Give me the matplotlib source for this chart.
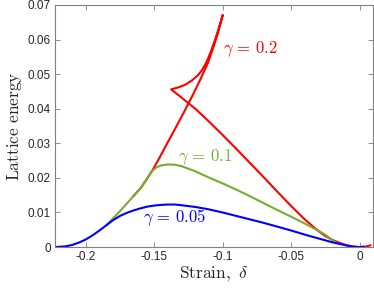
import matplotlib
matplotlib.use("Agg")
import matplotlib.pyplot as plt

plt.rcParams['mathtext.fontset'] = 'cm'
plt.rcParams['font.family'] = ['Liberation Sans', 'DejaVu Sans']

# gamma = 0.05 (blue)
blue_x = [-0.2225, -0.215, -0.21, -0.205, -0.2, -0.195, -0.19, -0.185, -0.18, -0.175,
          -0.17, -0.165, -0.16, -0.155, -0.15, -0.145, -0.14, -0.135, -0.13, -0.12,
          -0.11, -0.10, -0.09, -0.08, -0.07, -0.06, -0.05, -0.04, -0.03, -0.02,
          -0.01, -0.005, 0.0, 0.003]
blue_y = [0.0, 0.0002, 0.0006, 0.0013, 0.0022, 0.0034, 0.0048, 0.0063, 0.0078, 0.0090,
          0.0099, 0.0106, 0.0112, 0.0117, 0.0120, 0.0122, 0.0123, 0.0123, 0.0121, 0.0116,
          0.0109, 0.0100, 0.0090, 0.0080, 0.0070, 0.0059, 0.0048, 0.0036, 0.0025, 0.0014,
          0.0005, 0.0001, 0.0, 0.0001]

# gamma = 0.1 (green)
green_x = [-0.185, -0.18, -0.175, -0.17, -0.165, -0.16, -0.155, -0.151, -0.148, -0.145,
           -0.14, -0.135, -0.13, -0.12, -0.11, -0.10, -0.09, -0.08, -0.07, -0.06,
           -0.05, -0.04, -0.03, -0.025, -0.02, -0.017]
green_y = [0.0063, 0.0083, 0.0104, 0.0126, 0.0148, 0.0170, 0.0199, 0.0222, 0.0231, 0.0236,
           0.0239, 0.0238, 0.0234, 0.0219, 0.0201, 0.0184, 0.0166, 0.0147, 0.0127, 0.0107,
           0.0088, 0.0068, 0.0047, 0.0036, 0.0020, 0.0013]

# gamma = 0.2 (red): rising branch, upper return branch, descending branch
red_x = [-0.165, -0.16, -0.155, -0.151, -0.146, -0.1416, -0.135, -0.128, -0.122, -0.116,
         -0.111, -0.1067, -0.103, -0.0999,
         -0.1015, -0.1035, -0.106, -0.109, -0.112, -0.115, -0.118, -0.122, -0.127, -0.132,
         -0.1376,
         -0.13, -0.12, -0.11, -0.10, -0.09, -0.08, -0.07, -0.06, -0.05, -0.04,
         -0.03, -0.025, -0.02, -0.015, -0.01, -0.005, 0.0, 0.004, 0.008]
red_y = [0.0148, 0.0170, 0.0199, 0.0224, 0.0259, 0.0292, 0.0340, 0.0392, 0.0438, 0.0487,
         0.0530, 0.0578, 0.0625, 0.0671,
         0.0650, 0.0624, 0.0594, 0.0561, 0.0533, 0.0512, 0.0497, 0.0483, 0.0470, 0.0462,
         0.0456,
         0.0432, 0.0400, 0.0363, 0.0324, 0.0284, 0.0243, 0.0202, 0.0160, 0.0119, 0.0080,
         0.0046, 0.0032, 0.0021, 0.0013, 0.0006, 0.0002, 0.0, 0.0001, 0.0005]

x_ticks = [-0.2, -0.15, -0.1, -0.05, 0]
x_ticklabels = ['-0.2', '-0.15', '-0.1', '-0.05', '0']
y_ticks = [0, 0.01, 0.02, 0.03, 0.04, 0.05, 0.06, 0.07]
y_ticklabels = ['0', '0.01', '0.02', '0.03', '0.04', '0.05', '0.06', '0.07']

RED = '#FF0000'
GREEN = '#77AC30'
BLUE = '#0000FF'

fig = plt.figure(figsize=(3.74, 2.90), dpi=100)
ax = fig.add_axes([0.147, 0.148, 0.849, 0.835])

ax.plot(red_x, red_y, color=RED, lw=1.5, solid_joinstyle='round')
ax.plot(green_x, green_y, color=GREEN, lw=1.5, solid_joinstyle='round')
ax.plot(blue_x, blue_y, color=BLUE, lw=1.5, solid_joinstyle='round')

ax.text(-0.0999, 0.0571, r'$\gamma\,=\,0.2$', color=RED, fontsize=12, va='center', ha='left')
ax.text(-0.1323, 0.0261, r'$\gamma\,=\,0.1$', color=GREEN, fontsize=12, va='center', ha='left')
ax.text(-0.158, 0.0084, r'$\gamma\,=\,0.05$', color=BLUE, fontsize=12, va='center', ha='left')

ax.set_xlim(-0.2225, 0.0095)
ax.set_ylim(0, 0.07)
ax.set_xticks(x_ticks)
ax.set_xticklabels(x_ticklabels)
ax.set_yticks(y_ticks)
ax.set_yticklabels(y_ticklabels)

edge = '#808080'
for s in ax.spines.values():
    s.set_color(edge)
    s.set_linewidth(0.8)
ax.tick_params(direction='in', top=True, right=True, length=3.5, width=0.6,
               color=edge, labelsize=8.5, labelcolor='#262626', pad=3)

ax.set_xlabel(r'$\mathrm{Strain,}\ \delta$', fontsize=12.5, color='#262626', labelpad=1)
ax.set_ylabel(r'$\mathrm{Lattice\ energy}$', fontsize=12.5, color='#262626', labelpad=3)

fig.savefig('out.png', dpi=100)
